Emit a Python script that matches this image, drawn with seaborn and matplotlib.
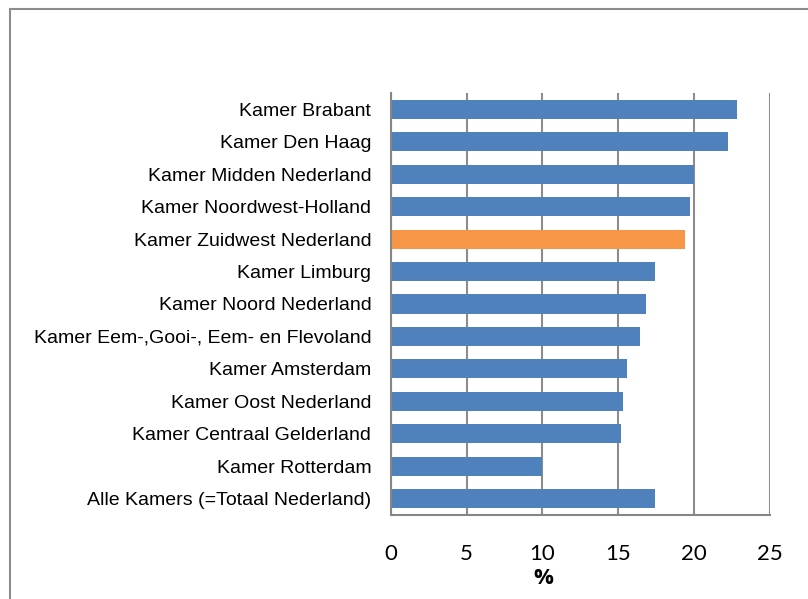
import matplotlib
matplotlib.use("Agg")
import matplotlib.pyplot as plt
import seaborn as sns
import pandas as pd
import numpy as np
from matplotlib.patches import Rectangle

categories = [
    "Kamer Brabant",
    "Kamer Den Haag",
    "Kamer Midden Nederland",
    "Kamer Noordwest-Holland",
    "Kamer Zuidwest Nederland",
    "Kamer Limburg",
    "Kamer Noord Nederland",
    "Kamer Eem-,Gooi-, Eem- en Flevoland",
    "Kamer Amsterdam",
    "Kamer Oost Nederland",
    "Kamer Centraal Gelderland",
    "Kamer Rotterdam",
    "Alle Kamers (=Totaal Nederland)",
]
values = [22.8, 22.2, 20.0, 19.7, 19.4, 17.4, 16.8, 16.4, 15.6, 15.3, 15.2, 10.0, 17.4]
highlight = "Kamer Zuidwest Nederland"
x_ticks = [0, 5, 10, 15, 20, 25]
x_label = "%"

BLUE = "#4F81BD"
ORANGE = "#F79646"

df = pd.DataFrame({"cat": categories, "val": values})
palette = {c: (ORANGE if c == highlight else BLUE) for c in categories}

sns.set_theme(style="white")
plt.rcParams["font.family"] = ["Liberation Sans", "DejaVu Sans"]
plt.rcParams["text.color"] = "black"
plt.rcParams["xtick.color"] = "black"
plt.rcParams["ytick.color"] = "black"
plt.rcParams["axes.labelcolor"] = "black"

fig = plt.figure(figsize=(8.08, 5.99), dpi=100)
ax = fig.add_axes([390.7 / 808, 1 - 515 / 599, (770 - 390.7) / 808, (515 - 93) / 599])

sns.barplot(data=df, y="cat", x="val", hue="cat", palette=palette, legend=False,
            orient="h", width=0.59, saturation=1, ax=ax, order=categories,
            linewidth=0)

ax.set_xlim(0, 25)
ax.set_ylim(len(categories) - 0.5, -0.5)
ax.set_xticks(x_ticks)
ax.set_xticklabels([str(t) for t in x_ticks])
ax.set_xlabel(x_label, fontsize=16, fontweight="bold", family=["Open Sans", "DejaVu Sans"],
              color="black")
ax.xaxis.set_label_coords((543 - 390.7) / 379.3, (515 - 568) / 422)
ax.set_ylabel("")
ax.tick_params(axis="y", which="major", length=0, pad=14, labelsize=14, labelcolor="black")
ax.set_yticks(np.arange(-0.5, len(categories) + 0.5, 1), minor=True)
ax.tick_params(axis="y", which="minor", length=5, width=1.2, color="#868686", direction="out")
ax.tick_params(axis="x", which="major", length=5, width=1.2, color="#868686", direction="out",
               pad=16, labelcolor="black", labelsize=16)
for lab in ax.get_xticklabels():
    lab.set_fontfamily(["Lato", "DejaVu Sans"])

ax.set_axisbelow(True)
ax.grid(axis="x", color="#8c8c8c", linewidth=1.5)
ax.grid(axis="y", visible=False)
for s in ["top", "right"]:
    ax.spines[s].set_visible(False)
for s in ["left", "bottom"]:
    ax.spines[s].set_color("#868686")
    ax.spines[s].set_linewidth(1.5)

# outer chart border (right/bottom out of frame)
fig.patches.append(Rectangle((10 / 808, -0.05), 1.1, 1 - 9 / 599 + 0.05,
                             transform=fig.transFigure, fill=False,
                             edgecolor="#8c8c8c", linewidth=1.5))

fig.savefig("out.png", dpi=100)
